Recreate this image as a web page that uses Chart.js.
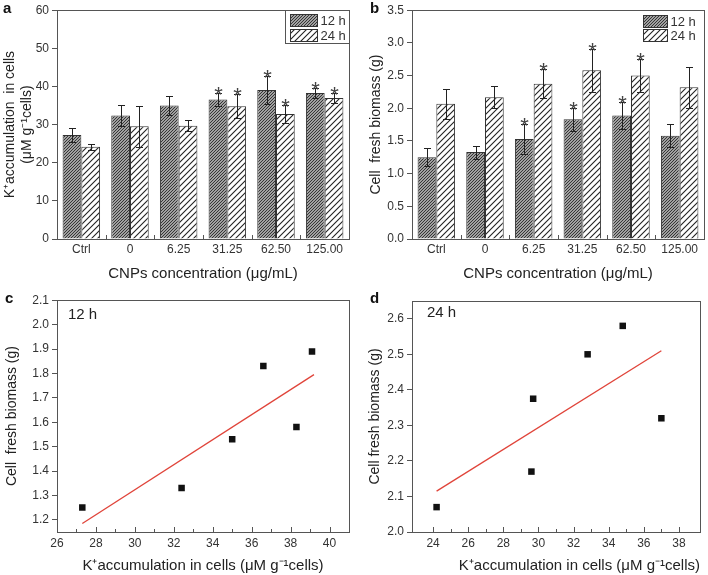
<!DOCTYPE html>
<html>
<head>
<meta charset="utf-8">
<script src="https://cdn.jsdelivr.net/npm/chart.js@4.4.0/dist/chart.umd.min.js"></script>
<style>
  body { margin: 0; background: #fff; width: 708px; height: 575px; position: relative; overflow: hidden; font-family: "Liberation Sans", Arial, sans-serif; }
  canvas { position: absolute; }
  .tag { position: absolute; font-weight: bold; font-size: 15px; color: #111; line-height: 1; }
</style>
</head>
<body>
<canvas id="ca" width="354" height="290" style="left:0;top:0"></canvas>
<canvas id="cb" width="354" height="290" style="left:354px;top:0"></canvas>
<canvas id="cc" width="354" height="285" style="left:0;top:290px"></canvas>
<canvas id="cd" width="354" height="285" style="left:354px;top:290px"></canvas>
<div class="tag" style="left:3px;top:0px">a</div>
<div class="tag" style="left:370px;top:0px">b</div>
<div class="tag" style="left:5px;top:290px">c</div>
<div class="tag" style="left:370px;top:290px">d</div>
<script>
// categories + series
const categories = ['Ctrl', '0', '6.25', '31.25', '62.50', '125.00'];
const seriesNames = ['12 h', '24 h'];

// panel a: K+ accumulation
const k12 = [27.3, 32.4, 35.0, 36.6, 39.1, 38.3];
const k12Err = [1.8, 2.7, 2.4, 1.6, 3.7, 1.2];
const k24 = [24.2, 29.6, 29.7, 34.8, 32.8, 37.0];
const k24Err = [0.8, 5.4, 1.5, 3.1, 2.4, 1.3];
const k12Sig = [0, 0, 0, 1, 1, 1];
const k24Sig = [0, 0, 0, 1, 1, 1];

// panel b: fresh biomass
const bio12 = [1.25, 1.33, 1.53, 1.83, 1.89, 1.58];
const bio12Err = [0.135, 0.10, 0.23, 0.18, 0.20, 0.18];
const bio24 = [2.07, 2.17, 2.375, 2.58, 2.50, 2.32];
const bio24Err = [0.23, 0.17, 0.22, 0.33, 0.25, 0.31];
const bio12Sig = [0, 0, 1, 1, 1, 0];
const bio24Sig = [0, 0, 1, 1, 1, 0];

// fitted lines in c and d (end points)
const fitCx = [27.3, 39.2];
const fitCy = [1.185, 1.795];
const fitDx = [24.2, 37.0];
const fitDy = [2.115, 2.51];

// tick labels
const yTicksA = [0, 10, 20, 30, 40, 50, 60];
const yTicksB = [0, 0.5, 1.0, 1.5, 2.0, 2.5, 3.0, 3.5];
const xTicksC = [26, 28, 30, 32, 34, 36, 38, 40];
const yTicksC = [1.2, 1.3, 1.4, 1.5, 1.6, 1.7, 1.8, 1.9, 2.0, 2.1];
const xTicksD = [24, 26, 28, 30, 32, 34, 36, 38];
const yTicksD = [2.0, 2.1, 2.2, 2.3, 2.4, 2.5, 2.6];

Chart.defaults.font.family = '"Liberation Sans", Arial, sans-serif';
Chart.defaults.color = '#333';
Chart.defaults.animation = false;

function hatch(bg, fg, size, lw) {
  const c = document.createElement('canvas');
  c.width = c.height = size;
  const g = c.getContext('2d');
  g.fillStyle = bg;
  g.fillRect(0, 0, size, size);
  g.strokeStyle = fg;
  g.lineWidth = lw;
  g.beginPath();
  g.moveTo(-1, size + 1); g.lineTo(size + 1, -1);
  g.moveTo(-1, 1); g.lineTo(1, -1);
  g.moveTo(size - 1, size + 1); g.lineTo(size + 1, size - 1);
  g.stroke();
  return g.createPattern(c, 'repeat');
}
const fill12 = hatch('#cfcfcf', '#2e2e2e', 3, 1.1);
const fill24 = hatch('#ffffff', '#222222', 6, 1.1);

// frame, inward ticks, error bars, stars, legend, notes
const decor = {
  id: 'decor',
  afterDatasetsDraw(chart, args, o) {
    const ctx = chart.ctx, a = chart.chartArea;
    const xs = chart.scales.x, ys = chart.scales.y;
    ctx.save();
    ctx.lineWidth = 1;

    if (o.err) {
      ctx.strokeStyle = '#222';
      ctx.fillStyle = '#444';
      ctx.font = '22px "Liberation Sans", Arial, sans-serif';
      ctx.textAlign = 'center';
      ctx.textBaseline = 'alphabetic';
      o.err.forEach((errs, d) => {
        const vals = chart.data.datasets[d].data;
        chart.getDatasetMeta(d).data.forEach((bar, i) => {
          const x = Math.round(bar.x) + 0.5;
          const hi = Math.round(ys.getPixelForValue(vals[i] + errs[i])) + 0.5;
          const lo = Math.round(ys.getPixelForValue(vals[i] - errs[i])) + 0.5;
          ctx.beginPath();
          ctx.moveTo(x, hi); ctx.lineTo(x, lo);
          ctx.moveTo(x - 3.5, hi); ctx.lineTo(x + 3.5, hi);
          ctx.moveTo(x - 3.5, lo); ctx.lineTo(x + 3.5, lo);
          ctx.stroke();
          if (o.sig[d][i]) ctx.fillText('*', x, hi + 8);
        });
      });
    }

    ctx.strokeStyle = '#555';
    ctx.beginPath();
    if (o.catTicks) {
      for (let i = 0; i < categories.length - 1; i++) {
        const bx = Math.round((xs.getPixelForValue(i) + xs.getPixelForValue(i + 1)) / 2) + 0.5;
        ctx.moveTo(bx, a.bottom); ctx.lineTo(bx, a.bottom - 4);
      }
    }
    if (o.xMinor) {
      const t = xs.ticks.map(k => k.value);
      t.forEach((v, i) => {
        const px = Math.round(xs.getPixelForValue(v)) + 0.5;
        ctx.moveTo(px, a.bottom); ctx.lineTo(px, a.bottom - 5);
        if (i < t.length - 1) {
          const m = Math.round(xs.getPixelForValue((v + t[i + 1]) / 2)) + 0.5;
          ctx.moveTo(m, a.bottom); ctx.lineTo(m, a.bottom - 3);
        }
      });
    }
    ctx.stroke();
    ctx.strokeRect(Math.round(a.left) + 0.5, Math.round(a.top) + 0.5, Math.round(a.width), Math.round(a.height));

    if (o.legend) {
      const L = o.legend;
      ctx.font = '13px "Liberation Sans", Arial, sans-serif';
      ctx.textAlign = 'left';
      ctx.textBaseline = 'middle';
      if (L.box) {
        ctx.strokeStyle = '#555';
        ctx.strokeRect(Math.round(a.right - L.box) + 0.5, Math.round(a.top) + 0.5, L.box, 33);
      }
      [fill12, fill24].forEach((f, i) => {
        const sx = Math.round(a.right - L.dx) + 0.5;
        const sy = Math.round(a.top + L.y[i]) + 0.5;
        ctx.fillStyle = f;
        ctx.fillRect(sx, sy, L.w, 12);
        ctx.strokeStyle = '#333';
        ctx.strokeRect(sx, sy, L.w, 12);
        ctx.fillStyle = '#333';
        ctx.fillText(seriesNames[i], sx + L.w + 3, sy + 6.5);
      });
    }

    if (o.note) {
      ctx.font = '15px "Liberation Sans", Arial, sans-serif';
      ctx.fillStyle = '#222';
      ctx.textAlign = 'left';
      ctx.textBaseline = 'middle';
      ctx.fillText(o.note, a.left + o.noteX, a.top + o.noteY);
    }
    ctx.restore();
  }
};

function fixTicks(list) {
  return s => { s.ticks = list.map(v => ({ value: v })); };
}

function yAxis(min, max, ticks, digits, width, title, titlePad) {
  return {
    min: min, max: max,
    afterBuildTicks: fixTicks(ticks),
    afterFit: s => { s.width = width; },
    border: { display: false },
    grid: { drawOnChartArea: false, drawTicks: true, tickLength: 5, color: '#555' },
    ticks: { font: { size: 12 }, color: '#333', padding: 3, callback: v => v.toFixed(digits) },
    title: { display: true, text: title, font: { size: 14 }, color: '#222', padding: { top: titlePad, bottom: 0 } }
  };
}

function barChart(id, d12, e12, s12, d24, e24, s24, yMin, yMax, yTicks, digits, yTitle, yPad, pad, legend) {
  new Chart(document.getElementById(id), {
    type: 'bar',
    data: {
      labels: categories,
      datasets: [
        { label: seriesNames[0], data: d12, backgroundColor: fill12, borderColor: '#333', borderWidth: 1 },
        { label: seriesNames[1], data: d24, backgroundColor: fill24, borderColor: '#333', borderWidth: 1 }
      ]
    },
    options: {
      responsive: false,
      events: [],
      layout: { padding: pad },
      datasets: { bar: { categoryPercentage: 0.77, barPercentage: 1.0 } },
      scales: {
        x: {
          afterFit: s => { s.height = 51; },
          border: { display: false },
          grid: { display: false, drawTicks: false },
          ticks: { font: { size: 12 }, color: '#333', padding: 3, maxRotation: 0, autoSkip: false },
          title: { display: true, text: 'CNPs concentration (μg/mL)', font: { size: 15 }, color: '#222', padding: { top: 0, bottom: 7 } }
        },
        y: yAxis(yMin, yMax, yTicks, digits, pad.yw, yTitle, yPad)
      },
      plugins: {
        legend: { display: false },
        tooltip: { enabled: false },
        decor: { err: [e12, e24], sig: [s12, s24], catTicks: true, legend: legend }
      }
    },
    plugins: [decor]
  });
}

function scatterChart(id, xs, ys, fx, fy, xMin, xMax, xTicks, yMin, yMax, yTicks, yTitle, yPad, pad, note, noteX, noteY, xAlign) {
  new Chart(document.getElementById(id), {
    type: 'scatter',
    data: {
      datasets: [
        { data: xs.map((x, i) => ({ x: x, y: ys[i] })), pointStyle: 'rect', pointRadius: 4.6, backgroundColor: '#111', borderColor: '#111', borderWidth: 0 },
        { type: 'line', data: fx.map((x, i) => ({ x: x, y: fy[i] })), borderColor: '#e0443a', borderWidth: 1.3, pointRadius: 0, fill: false }
      ]
    },
    options: {
      responsive: false,
      events: [],
      layout: { padding: pad },
      scales: {
        x: {
          type: 'linear', min: xMin, max: xMax,
          afterBuildTicks: fixTicks(xTicks),
          afterFit: s => { s.height = 43; },
          border: { display: false },
          grid: { display: false, drawTicks: false },
          ticks: { font: { size: 12 }, color: '#333', padding: 4, maxRotation: 0, callback: v => String(v) },
          title: { display: true, text: 'K⁺accumulation in cells (μM g⁻¹cells)', align: xAlign, font: { size: 15 }, color: '#222', padding: { top: 0, bottom: 0 } }
        },
        y: yAxis(yMin, yMax, yTicks, 1, pad.yw, yTitle, yPad)
      },
      plugins: {
        legend: { display: false },
        tooltip: { enabled: false },
        decor: { xMinor: true, note: note, noteX: noteX, noteY: noteY }
      }
    },
    plugins: [decor]
  });
}

barChart('ca', k12, k12Err, k12Sig, k24, k24Err, k24Sig, 0, 60, yTicksA, 0,
  ['K⁺accumulation  in cells', '(μM g⁻¹cells)'], 1.5,
  { left: 0, top: 7, right: 5, bottom: 0, yw: 57 },
  { box: 64, dx: 59, w: 27, y: [4, 19] });

barChart('cb', bio12, bio12Err, bio12Sig, bio24, bio24Err, bio24Sig, 0, 3.5, yTicksB, 1,
  'Cell  fresh biomass (g)', 14,
  { left: 0, top: 6, right: 4, bottom: 0, yw: 58 },
  { box: 0, dx: 61, w: 24, y: [5, 19] });

scatterChart('cc', k12, bio12, fitCx, fitCy, 26, 41, xTicksC, 1.15, 2.1, yTicksC,
  'Cell  fresh biomass (g)', 4, { left: 0, top: 10, right: 5, bottom: 0, yw: 57 }, '12 h', 11, 15, 'center');

scatterChart('cd', k24, bio24, fitDx, fitDy, 22.8, 39.2, xTicksD, 2.0, 2.65, yTicksD,
  'Cell fresh biomass (g)', 13, { left: 0, top: 11, right: 8, bottom: 0, yw: 58 }, '24 h', 15, 12, 'end');
</script>
</body>
</html>
